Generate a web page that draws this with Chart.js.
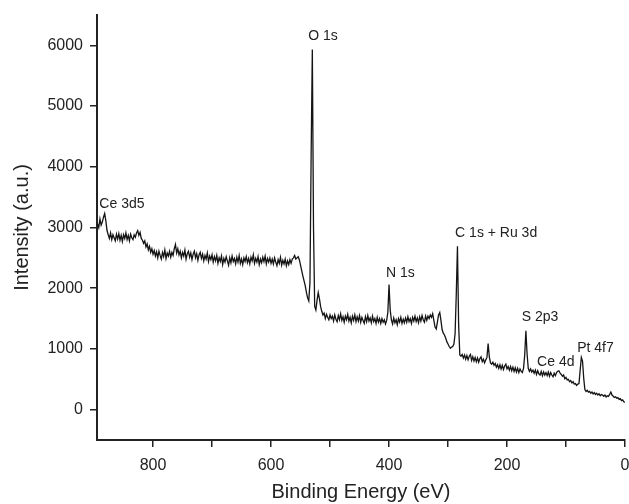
<!DOCTYPE html>
<html>
<head>
<meta charset="utf-8">
<script src="https://cdn.jsdelivr.net/npm/chart.js@4.4.1/dist/chart.umd.min.js"></script>
<style>
  html, body { margin: 0; padding: 0; background: #fff; }
  #xps { display: block; }
</style>
</head>
<body>
<canvas id="xps" width="629" height="504"></canvas>
<script>
// binding energy (eV), one row = 20 eV
var energy = [
    894, 892, 890, 888, 886, 884, 882, 880, 878, 876,
    874, 872, 870, 868, 866, 864, 862, 860, 858, 856,
    854, 852, 850, 848, 846, 844, 842, 840, 838, 836,
    834, 832, 830, 828, 826, 824, 822, 820, 818, 816,
    814, 812, 810, 808, 806, 804, 802, 800, 798, 796,
    794, 792, 790, 788, 786, 784, 782, 780, 778, 776,
    774, 772, 770, 768, 766, 764, 762, 760, 758, 756,
    754, 752, 750, 748, 746, 744, 742, 740, 738, 736,
    734, 732, 730, 728, 726, 724, 722, 720, 718, 716,
    714, 712, 710, 708, 706, 704, 702, 700, 698, 696,
    694, 692, 690, 688, 686, 684, 682, 680, 678, 676,
    674, 672, 670, 668, 666, 664, 662, 660, 658, 656,
    654, 652, 650, 648, 646, 644, 642, 640, 638, 636,
    634, 632, 630, 628, 626, 624, 622, 620, 618, 616,
    614, 612, 610, 608, 606, 604, 602, 600, 598, 596,
    594, 592, 590, 588, 586, 584, 582, 580, 578, 576,
    574, 572, 570, 568, 566, 564, 562, 560, 558, 556,
    554, 552, 550, 548, 546, 544, 542, 540, 538, 536,
    534, 532, 530, 528, 526, 524, 522, 520, 518, 516,
    514, 512, 510, 508, 506, 504, 502, 500, 498, 496,
    494, 492, 490, 488, 486, 484, 482, 480, 478, 476,
    474, 472, 470, 468, 466, 464, 462, 460, 458, 456,
    454, 452, 450, 448, 446, 444, 442, 440, 438, 436,
    434, 432, 430, 428, 426, 424, 422, 420, 418, 416,
    414, 412, 410, 408, 406, 404, 402, 400, 398, 396,
    394, 392, 390, 388, 386, 384, 382, 380, 378, 376,
    374, 372, 370, 368, 366, 364, 362, 360, 358, 356,
    354, 352, 350, 348, 346, 344, 342, 340, 338, 336,
    334, 332, 330, 328, 326, 324, 322, 320, 318, 316,
    314, 312, 310, 308, 306, 304, 302, 300, 298, 296,
    294, 292, 290, 288, 286, 284, 282, 280, 278, 276,
    274, 272, 270, 268, 266, 264, 262, 260, 258, 256,
    254, 252, 250, 248, 246, 244, 242, 240, 238, 236,
    234, 232, 230, 228, 226, 224, 222, 220, 218, 216,
    214, 212, 210, 208, 206, 204, 202, 200, 198, 196,
    194, 192, 190, 188, 186, 184, 182, 180, 178, 176,
    174, 172, 170, 168, 166, 164, 162, 160, 158, 156,
    154, 152, 150, 148, 146, 144, 142, 140, 138, 136,
    134, 132, 130, 128, 126, 124, 122, 120, 118, 116,
    114, 112, 110, 108, 106, 104, 102, 100, 98, 96,
    94, 92, 90, 88, 86, 84, 82, 80, 78, 76,
    74, 72, 70, 68, 66, 64, 62, 60, 58, 56,
    54, 52, 50, 48, 46, 44, 42, 40, 38, 36,
    34, 32, 30, 28, 26, 24, 22, 20, 18, 16,
    14, 12, 10, 8, 6, 4, 2, 0
];
// intensity (a.u.), same rows
var intensity = [
    3060, 3000, 3140, 3040, 3090, 3170, 3230, 3110, 2950, 2880,
    2820, 2910, 2800, 2880, 2830, 2780, 2890, 2810, 2900, 2790,
    2870, 2770, 2880, 2820, 2910, 2800, 2870, 2780, 2890, 2830,
    2800, 2880, 2840, 2910, 2950, 2870, 2920, 2820, 2790, 2740,
    2780, 2680, 2730, 2630, 2690, 2590, 2650, 2560, 2620, 2530,
    2600, 2500, 2610, 2540, 2480, 2590, 2520, 2630, 2490, 2580,
    2530, 2610, 2510, 2590, 2540, 2650, 2720, 2580, 2650, 2550,
    2610, 2500, 2590, 2530, 2630, 2480, 2570, 2610, 2510, 2580,
    2470, 2560, 2610, 2500, 2570, 2460, 2550, 2590, 2490, 2560,
    2450, 2540, 2480, 2580, 2440, 2530, 2470, 2550, 2430, 2520,
    2450, 2540, 2410, 2500, 2440, 2530, 2390, 2490, 2430, 2520,
    2450, 2380, 2500, 2420, 2530, 2440, 2490, 2400, 2510, 2430,
    2540, 2410, 2480, 2390, 2500, 2440, 2520, 2420, 2490, 2400,
    2510, 2450, 2550, 2410, 2490, 2430, 2520, 2390, 2480, 2420,
    2510, 2440, 2530, 2400, 2490, 2430, 2500, 2410, 2480, 2400,
    2500, 2430, 2370, 2470, 2410, 2510, 2380, 2460, 2400, 2480,
    2370, 2450, 2390, 2470, 2410, 2480, 2500, 2540, 2480, 2500,
    2520, 2470, 2380, 2290, 2200, 2120, 2040, 1930, 1840, 1790,
    2100, 4200, 5930, 3000, 1700, 1640, 1800, 1930, 1830, 1700,
    1620, 1560, 1590, 1500, 1570, 1520, 1480, 1560, 1500, 1540,
    1460, 1560, 1490, 1450, 1550, 1480, 1580, 1470, 1530, 1440,
    1540, 1480, 1570, 1460, 1520, 1430, 1540, 1470, 1560, 1450,
    1530, 1460, 1550, 1440, 1520, 1470, 1420, 1530, 1450, 1550,
    1460, 1510, 1430, 1540, 1450, 1500, 1420, 1520, 1440, 1500,
    1420, 1500, 1440, 1480, 1410, 1470, 1600, 2060, 1640, 1480,
    1410, 1510, 1430, 1480, 1400, 1500, 1440, 1520, 1420, 1490,
    1430, 1510, 1440, 1530, 1450, 1500, 1420, 1520, 1460, 1540,
    1450, 1510, 1430, 1530, 1460, 1550, 1480, 1440, 1540, 1470,
    1540, 1500, 1560, 1520, 1580, 1470, 1360, 1330, 1440, 1560,
    1600, 1470, 1320, 1260, 1230, 1180, 1120, 1080, 1040, 1010,
    1030, 1040, 1080, 1250, 1900, 2690, 1400, 900, 880, 910,
    850, 900, 830, 890, 820, 880, 910, 810, 870, 800,
    860, 790, 850, 780, 840, 870, 790, 830, 770, 820,
    860, 1090, 870, 770, 750, 780, 730, 760, 700, 740,
    680, 740, 670, 730, 660, 720, 750, 670, 710, 650,
    710, 640, 700, 630, 690, 620, 680, 610, 670, 630,
    610, 680, 900, 1300, 920, 680, 630, 670, 620, 650,
    600, 650, 580, 640, 590, 570, 630, 560, 620, 570,
    610, 560, 620, 550, 610, 570, 540, 600, 560, 610,
    630, 640, 600, 580, 550, 570, 510, 530, 490, 500,
    460, 480, 440, 460, 420, 430, 400, 420, 430, 650,
    860, 800, 520, 330, 300, 320, 290, 300, 270, 290,
    260, 280, 250, 270, 240, 260, 230, 250, 240, 220,
    240, 210, 230, 220, 250, 290, 240, 220, 200, 210,
    190, 200, 170, 180, 150, 160, 130, 120
];

var xTicks = [800, 700, 600, 500, 400, 300, 200, 100, 0];
var yTicks = [0, 1000, 2000, 3000, 4000, 5000, 6000];

// peak names, anchored at their left edge
var peakLabels = ['Ce 3d5', 'O 1s', 'N 1s', 'C 1s + Ru 3d', 'S 2p3', 'Ce 4d', 'Pt 4f7'];
var peakLabelX = [891, 537, 405, 288, 175, 149, 81];
var peakLabelY = [3390, 6145, 2255, 2915, 1530, 790, 1020];

var fontFamily = '"Liberation Sans", Arial, Helvetica, sans-serif';
var ink = '#222';

var peakNames = {
    id: 'peakNames',
    afterDatasetsDraw: function(chart) {
        var ctx = chart.ctx;
        var xs = chart.scales.x, ys = chart.scales.y;
        ctx.save();
        ctx.font = '14px ' + fontFamily;
        ctx.fillStyle = ink;
        ctx.textAlign = 'left';
        ctx.textBaseline = 'middle';
        for (var i = 0; i < peakLabels.length; i++) {
            ctx.fillText(peakLabels[i], xs.getPixelForValue(peakLabelX[i]), ys.getPixelForValue(peakLabelY[i]));
        }
        ctx.restore();
    }
};

var points = energy.map(function(e, i) { return {x: e, y: intensity[i]}; });

new Chart(document.getElementById('xps'), {
    type: 'line',
    data: {
        datasets: [{
            data: points,
            borderColor: '#141414',
            borderWidth: 1.3,
            pointRadius: 0,
            tension: 0,
            fill: false
        }]
    },
    options: {
        responsive: false,
        animation: false,
        layout: { padding: { left: 0, right: 4, top: 15, bottom: 0 } },
        plugins: {
            legend: { display: false },
            tooltip: { enabled: false }
        },
        scales: {
            x: {
                type: 'linear',
                reverse: true,
                min: 0,
                max: 895,
                afterBuildTicks: function(scale) {
                    scale.ticks = xTicks.map(function(v) { return {value: v}; });
                },
                afterFit: function(scale) {
                    scale.height = 64;
                    scale.paddingLeft = 0;
                    scale.paddingRight = 0;
                },
                grid: { display: true, drawOnChartArea: false, drawTicks: true, tickLength: 7, color: ink, lineWidth: 1.5 },
                border: { display: true, color: ink, width: 2 },
                ticks: {
                    autoSkip: false,
                    maxRotation: 0,
                    padding: 9,
                    color: ink,
                    font: { family: fontFamily, size: 16 },
                    callback: function(v) { return v % 200 === 0 ? String(v) : ''; }
                },
                title: {
                    display: true,
                    text: 'Binding Energy (eV)',
                    color: ink,
                    font: { family: fontFamily, size: 20 },
                    padding: { top: 0, bottom: 0 }
                }
            },
            y: {
                min: -500,
                max: 6500,
                afterBuildTicks: function(scale) {
                    scale.ticks = yTicks.map(function(v) { return {value: v}; });
                },
                afterFit: function(scale) {
                    scale.width = 97;
                    scale.paddingTop = 0;
                    scale.paddingBottom = 0;
                },
                grid: { display: true, drawOnChartArea: false, drawTicks: true, tickLength: 7, color: ink, lineWidth: 1.5 },
                border: { display: true, color: ink, width: 2 },
                ticks: {
                    padding: 7,
                    color: ink,
                    font: { family: fontFamily, size: 16 },
                    callback: function(v) { return String(v); }
                },
                title: {
                    display: true,
                    text: 'Intensity (a.u.)',
                    color: ink,
                    font: { family: fontFamily, size: 20 },
                    padding: { top: 10, bottom: 0 }
                }
            }
        }
    },
    plugins: [peakNames]
});
</script>
</body>
</html>
